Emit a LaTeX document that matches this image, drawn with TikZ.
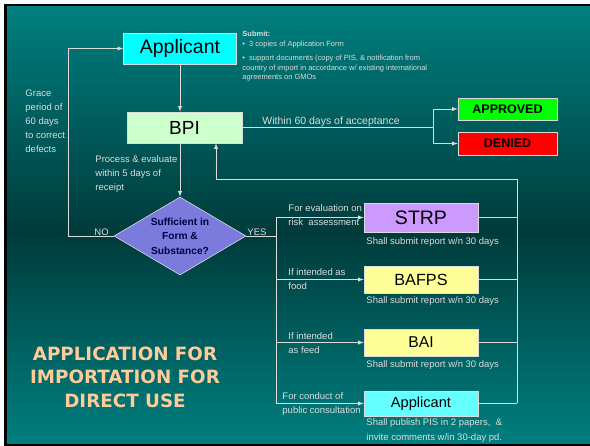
\documentclass[tikz,border=0pt]{standalone}
\usepackage{fontspec}
\setmainfont{Liberation Sans}
\newfontfamily\titlefont{DejaVu Sans}
\usetikzlibrary{shapes.geometric}
\definecolor{slideteal}{HTML}{007F7F}
\definecolor{slidedark}{HTML}{003B3B}
\definecolor{wire}{HTML}{DCDCDC}
\definecolor{applicantcyan}{HTML}{00FFFF}
\definecolor{consultcyan}{HTML}{66FFFF}
\definecolor{bpigreen}{HTML}{CCFFCC}
\definecolor{strpviolet}{HTML}{CC99FF}
\definecolor{agencyyellow}{HTML}{FFFF99}
\definecolor{decisionblue}{HTML}{7B7BDD}
\definecolor{decisiontext}{HTML}{000040}
\definecolor{titlepeach}{HTML}{FFCC99}
\begin{document}
\begin{tikzpicture}[x=1pt, y=-1pt,
                    line width=0.9pt,
                    >=latex,
                    every node/.style={text=wire, inner sep=0pt},
                    box/.style={draw=wire, line width=0.6pt, text=black},
                    note/.style={font=\fontsize{9.5}{14}\selectfont, align=left},
                    small note/.style={font=\fontsize{7.5}{9.7}\selectfont, align=left}]
      \useasboundingbox (0,0) rectangle (590,446);
      \fill[white] (0,0) rectangle (590,446);
      \fill[black] (4,4) rectangle (590,446);
      \shade[top color=slideteal, bottom color=slidedark] (7,7) rectangle (590,232);
      \shade[top color=slidedark, bottom color=slideteal] (7,231.5) rectangle (590,444);
      \node[box, fill=applicantcyan, minimum width=113pt, minimum height=31pt,
            font=\fontsize{19.5}{20}\selectfont] (applicant) at (180, 48.5) {Applicant};
      \node[box, fill=bpigreen, minimum width=115pt, minimum height=31pt,
            font=\fontsize{19}{20}\selectfont] (bpi) at (184.5, 127.5) {BPI};
      \node[box, fill=decisionblue, diamond, aspect=1.7, minimum width=132pt, minimum height=78pt,
            text=decisiontext, align=center, font=\fontsize{10.2}{14.5}\selectfont\bfseries]
            (decision) at (180, 236) {Sufficient in\\Form \&\\Substance?};
      \node[box, fill=strpviolet, minimum width=114pt, minimum height=29pt,
            font=\fontsize{19.5}{20}\selectfont] (strp) at (421, 217.5) {STRP};
      \node[box, fill=agencyyellow, minimum width=114pt, minimum height=27pt,
            font=\fontsize{16.2}{17}\selectfont] (bafps) at (421, 279.5) {BAFPS};
      \node[box, fill=agencyyellow, minimum width=114pt, minimum height=27pt,
            font=\fontsize{15.7}{17}\selectfont] (bai) at (421, 342.5) {BAI};
      \node[box, fill=consultcyan, minimum width=114pt, minimum height=25pt,
            font=\fontsize{14.6}{16}\selectfont] (consult) at (421, 403.5) {Applicant};
      \node[box, fill=green, minimum width=99pt, minimum height=22pt,
            font=\fontsize{12.5}{13}\selectfont\bfseries] (approved) at (507.5, 109) {APPROVED};
      \node[box, fill=red, minimum width=99pt, minimum height=23pt,
            font=\fontsize{12.5}{13}\selectfont\bfseries] (denied) at (507.5, 143.5) {DENIED};
      \node[small note, anchor=north west] (submit) at (242, 31) {\textbf{Submit:}\\%
            •\ \ 3 copies of Application Form\\[4.3pt]%
            •\ \ support documents (copy of PIS, \& notification from\\%
            country of import in accordance w/ existing international\\%
            agreements on GMOs};
      \node[note, anchor=north west] (grace) at (25, 89.6) {Grace\\period of\\60 days\\to correct\\defects};
      \node[note, anchor=north west] (process) at (95, 155.6) {Process \& evaluate\\within 5 days of\\receipt};
      \node[font=\fontsize{10.5}{12}\selectfont, anchor=base west] (within) at (262, 124.8) {Within 60 days of acceptance};
      \node[note, anchor=base west] (no) at (94, 235.5) {NO};
      \node[note, anchor=base west] (yes) at (247, 235.5) {YES};
      \node[note, anchor=north west] (strp_label) at (288, 204.6) {For evaluation on\\risk\ \ assessment};
      \node[note, anchor=north west] (bafps_label) at (288, 268.6) {If intended as\\food};
      \node[note, anchor=north west] (bai_label) at (288, 332.6) {If intended\\as feed};
      \node[note, anchor=north west] (consult_label) at (282, 392.6) {For conduct of\\public consultation};
      \node[note, anchor=base west] (strp_report) at (366, 244.4) {Shall submit report w/n 30 days};
      \node[note, anchor=base west] (bafps_report) at (366, 303.4) {Shall submit report w/n 30 days};
      \node[note, anchor=base west] (bai_report) at (366, 367.4) {Shall submit report w/n 30 days};
      \node[note, anchor=north west, font=\fontsize{9.5}{15}\selectfont] (consult_report) at (366, 418.6)
            {Shall publish PIS in 2 papers,\ \ \&\\invite comments w/in 30-day pd.};
      \node[text=titlepeach, align=center, anchor=north,
            font=\fontsize{18.3}{23.5}\selectfont\titlefont\bfseries] (title) at (125, 346.3)
            {APPLICATION FOR\\IMPORTATION FOR\\DIRECT USE};
      \draw[->, wire] (applicant.south) -- (applicant.south |- bpi.north);
      \draw[->, wire] (decision.north |- bpi.south) -- (decision.north);
      \draw[->, wire] (decision.west) -- ++(-45,0) |- (applicant.west);
      \draw[wire] (bpi.east) -- ++(191,0) coordinate (fork);
      \draw[->, wire] (fork) |- (approved.west);
      \draw[->, wire] (fork) |- (denied.west);
      \draw[wire] (decision.east) -- ++(30,0) coordinate (trunk);
      \draw[wire] (trunk |- strp.west) -- (trunk |- consult.west);
      \foreach \unit in {strp, bafps, bai, consult}
        \draw[->, wire] (trunk |- \unit.west) -- (\unit.west);
      \coordinate (back) at (517, 179);
      \coordinate (bpi_return) at (216, 179);
      \foreach \unit in {strp, bafps, bai, consult}
        \draw[wire] (\unit.east) -- (\unit.east -| back);
      \draw[->, wire] (back |- consult.east) -- (back) -- (bpi_return) -- (bpi_return |- bpi.south);
    \end{tikzpicture}
\end{document}
